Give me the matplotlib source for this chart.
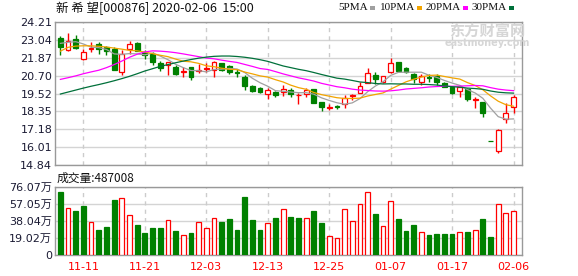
import numpy as np
import matplotlib
matplotlib.use('Agg')
import matplotlib.pyplot as plt
from matplotlib.patches import Rectangle

plt.rcParams['font.family'] = ['DejaVu Sans', 'Noto Sans CJK SC']

# trading days shown (MM-DD)
dates = ['11-06', '11-07', '11-08', '11-11', '11-12', '11-13', '11-14', '11-15', '11-18', '11-19',
         '11-20', '11-21', '11-22', '11-25', '11-26', '11-27', '11-28', '11-29', '12-02', '12-03',
         '12-04', '12-05', '12-06', '12-09', '12-10', '12-11', '12-12', '12-13', '12-16', '12-17',
         '12-18', '12-19', '12-20', '12-23', '12-24', '12-25', '12-26', '12-27', '12-30', '12-31',
         '01-02', '01-03', '01-06', '01-07', '01-08', '01-09', '01-10', '01-13', '01-14', '01-15',
         '01-16', '01-17', '01-20', '01-21', '01-22', '01-23', '02-03', '02-04', '02-05', '02-06']

opens = [23.18, 22.38, 23.10, 21.76, 22.42, 22.77, 22.55, 22.45, 20.95, 22.42,
         22.82, 22.25, 22.11, 21.50, 21.39, 21.28, 20.93, 21.24, 21.03, 21.13,
         21.06, 21.50, 21.33, 20.93, 20.63, 20.02, 19.86, 19.49, 19.64, 19.64,
         19.75, 19.40, 19.49, 19.80, 18.99, 18.58, 18.68, 18.82, 19.36, 19.58,
         20.19, 20.74, 20.26, 20.91, 21.57, 21.17, 20.80, 20.26, 20.63, 20.67,
         20.19, 19.93, 19.71, 19.80, 19.12, 18.99, 16.41, 15.76, 17.83, 18.66]
highs = [23.29, 23.51, 23.36, 22.45, 22.92, 22.88, 22.64, 22.55, 22.38, 22.96,
         22.90, 22.38, 22.26, 21.65, 21.61, 21.37, 21.28, 21.26, 21.44, 21.50,
         21.65, 21.55, 21.39, 21.13, 20.74, 20.05, 19.93, 19.86, 19.66, 20.08,
         19.86, 19.54, 19.86, 19.83, 19.00, 18.84, 18.77, 19.43, 19.49, 20.30,
         21.17, 20.94, 20.70, 21.83, 21.61, 21.28, 20.89, 20.80, 20.80, 20.80,
         20.30, 19.99, 19.97, 19.86, 19.28, 18.99, 16.41, 17.20, 18.88, 19.45]
lows = [22.05, 22.33, 22.46, 21.70, 22.26, 22.11, 22.05, 21.04, 20.74, 22.11,
        22.30, 21.78, 21.39, 21.00, 20.74, 20.74, 20.59, 20.38, 20.89, 20.93,
        20.59, 21.00, 20.80, 20.63, 19.75, 19.60, 19.54, 19.16, 19.32, 19.38,
        19.32, 18.84, 19.29, 18.90, 18.40, 18.44, 18.51, 18.60, 19.10, 19.58,
        20.19, 20.16, 20.24, 20.89, 20.96, 20.89, 20.24, 20.08, 20.30, 20.08,
        19.93, 19.52, 19.28, 19.05, 18.55, 18.00, 16.41, 15.65, 17.57, 18.25]
closes = [22.59, 22.94, 22.48, 22.26, 22.53, 22.42, 22.33, 21.06, 22.11, 22.77,
          22.33, 22.05, 21.57, 21.17, 21.59, 20.80, 20.97, 20.63, 21.09, 21.19,
          21.61, 21.06, 20.91, 20.88, 20.04, 19.69, 19.64, 19.75, 19.43, 19.82,
          19.47, 19.44, 19.75, 18.92, 18.62, 18.64, 18.65, 19.26, 19.40, 20.02,
          20.89, 20.48, 20.67, 21.50, 21.02, 20.95, 20.45, 20.67, 20.52, 20.30,
          19.97, 19.58, 19.93, 19.14, 19.16, 18.23, 16.41, 17.13, 18.27, 19.28]

ma5 = [22.81, 22.88, 22.92, 22.77, 22.56, 22.53, 22.41, 22.12, 22.09, 22.14,
       22.12, 22.06, 22.17, 21.98, 21.74, 21.44, 21.22, 21.03, 21.02, 20.94,
       21.10, 21.12, 21.17, 21.13, 20.90, 20.52, 20.23, 20.00, 19.71, 19.67,
       19.62, 19.58, 19.58, 19.48, 19.24, 19.07, 18.92, 18.82, 18.91, 19.19,
       19.64, 20.01, 20.29, 20.71, 20.91, 20.92, 20.92, 20.92, 20.72, 20.58,
       20.38, 20.21, 20.06, 19.78, 19.56, 19.21, 18.57, 18.01, 17.84, 17.86]
ma10 = [22.30, 22.55, 22.63, 22.65, 22.65, 22.62, 22.57, 22.50, 22.43, 22.35,
        22.32, 22.24, 22.14, 22.03, 21.94, 21.78, 21.64, 21.60, 21.50, 21.34,
        21.28, 21.18, 21.11, 21.09, 20.93, 20.81, 20.68, 20.60, 20.43, 20.28,
        20.07, 19.91, 19.80, 19.59, 19.45, 19.35, 19.25, 19.20, 19.20, 19.22,
        19.36, 19.46, 19.56, 19.81, 20.05, 20.29, 20.46, 20.60, 20.71, 20.73,
        20.64, 20.55, 20.47, 20.24, 20.05, 19.77, 19.37, 19.02, 18.79, 18.69]
ma20 = [20.45, 20.56, 20.68, 20.82, 20.94, 21.05, 21.22, 21.42, 21.65, 21.90,
        22.10, 22.25, 22.32, 22.30, 22.26, 22.20, 22.12, 22.03, 21.94, 21.85,
        21.80, 21.71, 21.63, 21.56, 21.43, 21.30, 21.16, 21.10, 20.96, 20.81,
        20.68, 20.55, 20.45, 20.34, 20.19, 20.08, 19.97, 19.90, 19.81, 19.75,
        19.72, 19.69, 19.68, 19.70, 19.75, 19.82, 19.86, 19.90, 19.95, 19.98,
        20.00, 20.00, 20.01, 20.03, 20.05, 20.03, 19.91, 19.81, 19.75, 19.71]
ma30 = [19.49, 19.62, 19.75, 19.88, 20.00, 20.11, 20.23, 20.36, 20.50, 20.65,
        20.82, 21.00, 21.15, 21.30, 21.42, 21.54, 21.65, 21.75, 21.84, 21.91,
        21.96, 21.98, 21.98, 21.95, 21.90, 21.83, 21.74, 21.63, 21.48, 21.33,
        21.22, 21.11, 21.02, 20.90, 20.77, 20.65, 20.53, 20.47, 20.38, 20.28,
        20.24, 20.18, 20.15, 20.16, 20.15, 20.15, 20.13, 20.13, 20.11, 20.08,
        20.02, 19.97, 19.94, 19.88, 19.85, 19.80, 19.69, 19.61, 19.57, 19.55]

# volume in 万手
volume = [70.2, 52.1, 49.1, 54.3, 36.6, 28.1, 31.0, 62.0, 64.3, 44.3,
          33.2, 24.7, 29.9, 29.9, 38.8, 27.0, 22.2, 24.4, 36.6, 29.9,
          41.0, 36.9, 39.9, 28.1, 64.6, 39.1, 28.1, 35.5, 41.0, 51.0,
          42.1, 41.0, 41.7, 49.1, 35.8, 21.0, 18.8, 51.0, 38.0, 56.5,
          70.9, 45.8, 32.1, 60.2, 39.9, 27.0, 33.6, 25.5, 22.5, 23.6,
          23.6, 23.6, 25.5, 25.9, 28.1, 39.9, 20.3, 57.6, 46.5, 48.7]
vol_up = [0, 1, 0, 0, 1, 0, 0, 0, 1, 1,
          0, 0, 0, 0, 1, 0, 1, 0, 1, 1,
          1, 0, 0, 0, 0, 0, 0, 1, 0, 1,
          0, 0, 1, 0, 0, 1, 1, 1, 1, 1,
          1, 0, 1, 1, 0, 0, 0, 1, 0, 0,
          0, 0, 1, 0, 1, 0, 0, 1, 1, 1]

price_labels = ['24.21', '23.04', '21.87', '20.70', '19.52', '18.35', '17.18', '16.01', '14.84']
vol_labels = ['76.07万', '57.05万', '38.04万', '19.02万', '0']
tick_idx = [3, 11, 19, 27, 35, 43, 51, 59]

RED = '#ff0000'
GREEN = '#008000'
GRID = '#d4d4d4'
FRAME = '#999999'
LABEL = '#1a1a33'

o = np.array(opens); h = np.array(highs); l = np.array(lows); c = np.array(closes)
x = np.arange(len(dates))
up = c > o
cols = np.where(up, RED, GREEN)

fig = plt.figure(figsize=(5.78, 2.76), dpi=100)
ax = fig.add_axes([55/578, 1-165/276, 467/578, 143/276])
axv = fig.add_axes([55/578, 1-255/276, 467/578, 68/276])

# candles
ax.vlines(x, l, h, colors=cols, lw=1, zorder=3)
ax.bar(x, np.maximum(np.abs(c-o), 0.004), bottom=np.minimum(o, c), width=0.62,
       facecolor=np.where(up, 'white', GREEN), edgecolor=cols, lw=0.9, zorder=4)

ax.plot(x, ma5, color='#a0a0a0', lw=0.9, zorder=5)
ax.plot(x, ma10, color='#f2a400', lw=0.9, zorder=5)
ax.plot(x, ma20, color='#ff00ff', lw=0.9, zorder=5)
ax.plot(x, ma30, color='#00703a', lw=0.9, zorder=5)

pvals = [float(s) for s in price_labels]
ax.set_ylim(pvals[-1], pvals[0])
ax.set_yticks(pvals)
ax.set_yticklabels(price_labels)

# volume
vup = np.array(vol_up) == 1
axv.bar(x, volume, width=0.62, facecolor=np.where(vup, 'white', GREEN),
        edgecolor=np.where(vup, RED, GREEN), lw=0.9, zorder=3)
vvals = [0 if s == '0' else float(s.replace('万', '')) for s in vol_labels]
axv.set_ylim(0, vvals[0])
axv.set_yticks(vvals)
axv.set_yticklabels(vol_labels)

for a in (ax, axv):
    a.set_xlim(-0.7, 60.1)
    a.set_xticks(tick_idx)
    a.grid(axis='y', color=GRID, lw=1, zorder=0)
    for t in tick_idx:
        a.axvline(t, color='#cccccc', lw=1, ls=(0, (3, 3)), zorder=1)
    for s in a.spines.values():
        s.set_color(FRAME)
        s.set_linewidth(1)
    a.tick_params(length=0, labelsize=8, labelcolor=LABEL, pad=2)
    a.set_axisbelow(True)

ax.set_xticklabels([])
axv.set_xticklabels([dates[i] for i in tick_idx])
axv.tick_params(axis='x', labelcolor=RED, pad=5)

# header texts
fig.text(56/578, 1-8/276, '新 希 望[000876] 2020-02-06  15:00', fontsize=9,
         family=['Noto Sans CJK SC', 'DejaVu Sans'], va='center', ha='left', color='#111111')
fig.text(57/578, 1-178/276, '成交量:487008', fontsize=8.5,
         family=['Noto Sans CJK SC', 'DejaVu Sans'], va='center', ha='left', color='#111111')

# legend: name followed by a small colour block
renderer = fig.canvas.get_renderer()
legend = [('5PMA', 338, '#a0a0a0'), ('10PMA', 380, '#f2a400'),
          ('20PMA', 426, '#ff00ff'), ('30PMA', 472, '#00703a')]
for name, tx, col in legend:
    t = fig.text(tx/578, 1-8/276, name, fontsize=8, va='center', ha='left', color='#111111',
                 family=['Liberation Serif', 'DejaVu Serif'])
    right = t.get_window_extent(renderer).x1
    fig.patches.append(Rectangle(((right + 2)/578, 1-9.5/276), 5/578, 3/276,
                                 transform=fig.transFigure, facecolor=col, edgecolor='none'))

# watermark
fig.text(487/578, 1-31/276, '东方财富网', fontsize=11, weight='bold', color='#d6d6d6',
         family=['Noto Sans CJK SC'], ha='center', va='center', zorder=0)
fig.text(487/578, 1-43/276, 'eastmoney.com', fontsize=7, weight='bold', color='#d6d6d6',
         ha='center', va='center', zorder=0)

fig.savefig('out.png', dpi=100)
